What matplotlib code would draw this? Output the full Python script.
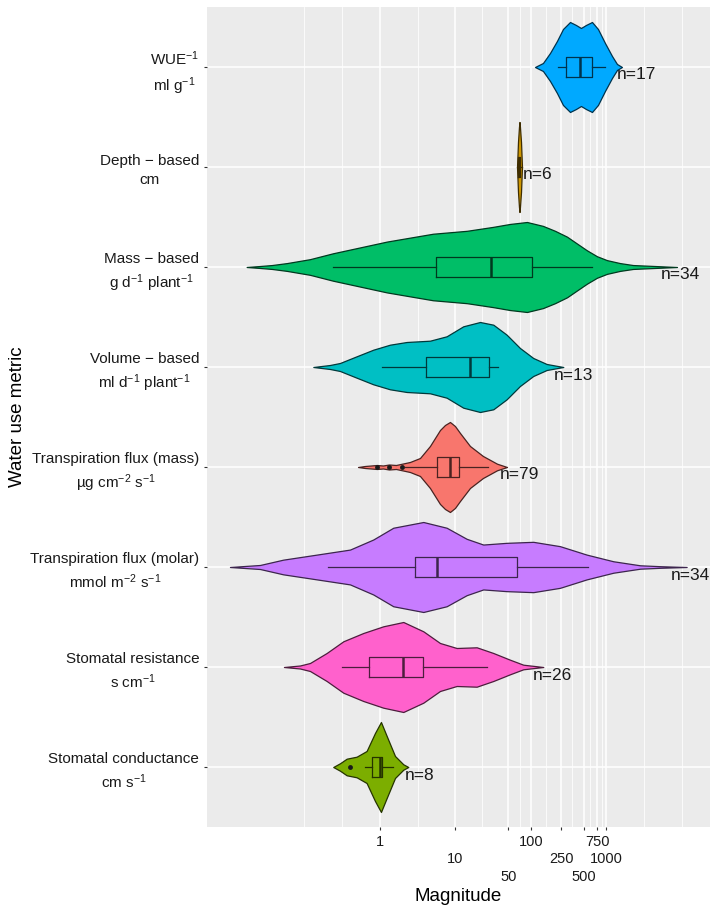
import numpy as np
import matplotlib
matplotlib.use('Agg')
import matplotlib.pyplot as plt
from matplotlib.ticker import NullFormatter
from matplotlib.colors import to_rgb

plt.rcParams['font.family'] = ['Liberation Sans', 'DejaVu Sans']
plt.rcParams['mathtext.fontset'] = 'custom'
plt.rcParams['mathtext.rm'] = 'Liberation Sans'
plt.rcParams['mathtext.it'] = 'Liberation Sans:italic'

# categories, top to bottom
CATEGORIES = [
    'WUE$^{-1}$\nml g$^{-1}$',
    'Depth \u2212 based\ncm',
    'Mass \u2212 based\ng d$^{-1}$ plant$^{-1}$',
    'Volume \u2212 based\nml d$^{-1}$ plant$^{-1}$',
    'Transpiration flux (mass)\n\u00b5g cm$^{-2}$ s$^{-1}$',
    'Transpiration flux (molar)\nmmol m$^{-2}$ s$^{-1}$',
    'Stomatal resistance\ns cm$^{-1}$',
    'Stomatal conductance\ncm s$^{-1}$',
]
COLORS = ['#00A9FF', '#CD9600', '#00BE67', '#00BFC4',
          '#F8766D', '#C77CFF', '#FF61CC', '#7CAE00']
N_OBS = [17, 6, 34, 13, 79, 34, 26, 8]

# violin outlines: log10(magnitude) and relative half-width
PROFILE_LOG = [
    [2.053, 2.159, 2.252, 2.344, 2.424, 2.517, 2.596, 2.662, 2.728, 2.808,
     2.887, 2.980, 3.073, 3.139, 3.205],
    [1.815, 1.828, 1.841, 1.848, 1.854, 1.868, 1.881],
    [-1.766, -1.589, -1.430, -1.232, -0.927, -0.623, -0.265, 0.093, 0.397,
     0.702, 1.152, 1.497, 1.722, 1.947, 2.159, 2.318, 2.477, 2.609, 2.742,
     2.874, 3.007, 3.179, 3.351, 3.642, 3.934],
    [-0.883, -0.662, -0.530, -0.309, -0.089, 0.132, 0.354, 0.662, 0.883,
     1.103, 1.325, 1.501, 1.678, 1.854, 2.030, 2.208, 2.428],
    [-0.291, -0.199, -0.040, 0.040, 0.119, 0.212, 0.305, 0.397, 0.530, 0.662,
     0.795, 0.861, 0.927, 0.993, 1.060, 1.192, 1.364, 1.550, 1.682],
    [-1.987, -1.589, -1.281, -0.838, -0.397, -0.089, 0.176, 0.574, 0.883,
     1.148, 1.368, 1.678, 2.030, 2.384, 2.738, 3.090, 3.444, 3.709, 4.062],
    [-1.272, -1.060, -0.927, -0.706, -0.486, -0.221, 0.044, 0.309, 0.574,
     0.795, 1.016, 1.281, 1.501, 1.722, 1.898, 2.163],
    [-0.619, -0.530, -0.441, -0.309, -0.177, -0.066, 0.013, 0.089, 0.199,
     0.309, 0.375],
]
PROFILE_W = [
    [0, 4, 14, 26, 38, 45, 42, 39, 42, 45, 38, 24, 11, 3, 0],
    [0, 25, 40, 45, 40, 25, 0],
    [0, 1, 2, 4, 8, 14, 20, 26, 30, 34, 37, 41, 44, 46, 42, 37, 31, 24, 17,
     11, 7, 4, 2, 1, 0],
    [0, 2, 4, 10.7, 17.3, 22.3, 25, 26.3, 30.7, 40.7, 45, 42.3, 32.3, 19, 9,
     3, 0],
    [0, 1, 2, 1.5, 2.5, 2, 3.5, 5, 9, 21, 37, 42, 45, 41, 34, 21, 11, 3.3, 0],
    [0, 2, 7.3, 12.3, 17.3, 27.3, 39, 44.7, 39, 28, 22.3, 24, 25, 20.7, 12.3,
     5.7, 1.7, 0.8, 0],
    [0, 1.5, 4, 14, 25.7, 34, 40.7, 45, 35.7, 24, 19, 19.7, 14, 7.3, 2.3, 0],
    [0, 3.7, 8.3, 10.3, 16, 34, 45, 31, 11, 2.7, 0],
]

# box statistics, log10(magnitude)
BOX_LO = [2.358, 1.815, -0.619, 0.022, 0.331, -0.685, -0.507, -0.199]
BOX_Q1 = [2.460, 1.834, 0.738, 0.609, 0.759, 0.464, -0.141, -0.102]
BOX_MED = [2.649, 1.845, 1.470, 1.192, 0.927, 0.751, 0.309, 0.000]
BOX_Q3 = [2.808, 1.858, 2.017, 1.448, 1.050, 1.819, 0.574, 0.031]
BOX_HI = [2.980, 1.881, 2.812, 1.567, 1.434, 2.759, 1.421, 0.168]
OUTLIERS = [[], [], [], [], [-0.036, 0.119, 0.287], [], [], [-0.397]]

X_BREAKS = [1, 10, 50, 100, 250, 500, 750, 1000]
X_MINOR_LOG = [-1, -0.5, 0.5, 1.35, 1.849, 2.199, 2.549, 2.788, 2.938, 3.5, 4]

fig = plt.figure(figsize=(7.2, 9.14), dpi=100)
ax = fig.add_axes([207 / 720, 87 / 914, 503 / 720, 820 / 914])
ax.set_facecolor('#EBEBEB')
for s in ax.spines.values():
    s.set_visible(False)

ax.set_xscale('log')
ax.set_xlim(10 ** -2.291, 10 ** 4.371)
ax.set_ylim(0.4, 8.6)

n = len(CATEGORIES)
positions = [n - i for i in range(n)]

# label nudges (pixels) relative to the right tip of each violin
label_dx = [-5, 1, -16, -10, -7, -16, -10, -3]

for i in range(n):
    fill = COLORS[i]
    dark = tuple(c * 0.3 for c in to_rgb(fill))
    coords = 10 ** np.array(PROFILE_LOG[i])
    stats = dict(coords=coords, vals=np.array(PROFILE_W[i], dtype=float),
                 mean=10 ** BOX_MED[i], median=10 ** BOX_MED[i],
                 min=coords[0], max=coords[-1])
    parts = ax.violin([stats], positions=[positions[i]], widths=0.9,
                      orientation='horizontal', showextrema=False)
    for body in parts['bodies']:
        body.set_facecolor(fill)
        body.set_edgecolor(dark)
        body.set_linewidth(0.9)
        body.set_alpha(1)
        body.set_zorder(2)

    bstats = dict(whislo=10 ** BOX_LO[i], q1=10 ** BOX_Q1[i],
                  med=10 ** BOX_MED[i], q3=10 ** BOX_Q3[i],
                  whishi=10 ** BOX_HI[i],
                  fliers=10 ** np.array(OUTLIERS[i]))
    ax.bxp([bstats], positions=[positions[i]], widths=0.2,
           orientation='horizontal', showcaps=False, manage_ticks=False,
           boxprops=dict(color=dark, linewidth=0.9),
           whiskerprops=dict(color=dark, linewidth=0.9),
           medianprops=dict(color=dark, linewidth=1.8),
           flierprops=dict(marker='o', markersize=3.5,
                           markerfacecolor='#1a1a1a', markeredgecolor='none'),
           zorder=3)

    ax.annotate(f'n={N_OBS[i]}', xy=(coords[-1], positions[i]),
                xytext=(label_dx[i] * 0.72, -8 * 0.72),
                textcoords='offset points', ha='left', va='center',
                fontsize=12.5, color='#1a1a1a', zorder=4)

# x tick labels dodged over three rows
ax.set_xticks(X_BREAKS, [''] * len(X_BREAKS))
for k, b in enumerate(X_BREAKS):
    ax.annotate(str(b), xy=(b, 0), xycoords=('data', 'axes fraction'),
                xytext=(0, -(8 + 17.3 * (k % 3)) * 0.72),
                textcoords='offset points', ha='center', va='top',
                fontsize=10.5, color='#1a1a1a', annotation_clip=False)
ax.set_xticks(10 ** np.array(X_MINOR_LOG), minor=True)
ax.xaxis.set_minor_formatter(NullFormatter())
ax.set_yticks(positions, CATEGORIES)

ax.tick_params(axis='x', which='major', length=2.5, color='#333333')
ax.tick_params(axis='x', which='minor', length=0)
ax.tick_params(axis='y', length=2.5, color='#333333', labelsize=11,
               labelcolor='#1a1a1a', pad=3)
for t in ax.get_yticklabels():
    t.set_multialignment('center')
    t.set_linespacing(1.42)

ax.grid(which='major', color='white', linewidth=1.1)
ax.grid(which='minor', axis='x', color='white', linewidth=0.55)
ax.set_axisbelow(True)

ax.set_xlabel('Magnitude', fontsize=13.5, color='#000000')
ax.xaxis.set_label_coords(0.5, -0.074)
ax.set_ylabel('Water use metric', fontsize=13.5, color='#000000')
ax.yaxis.set_label_coords(-0.36, 0.5)

fig.savefig('out.png', dpi=100)
